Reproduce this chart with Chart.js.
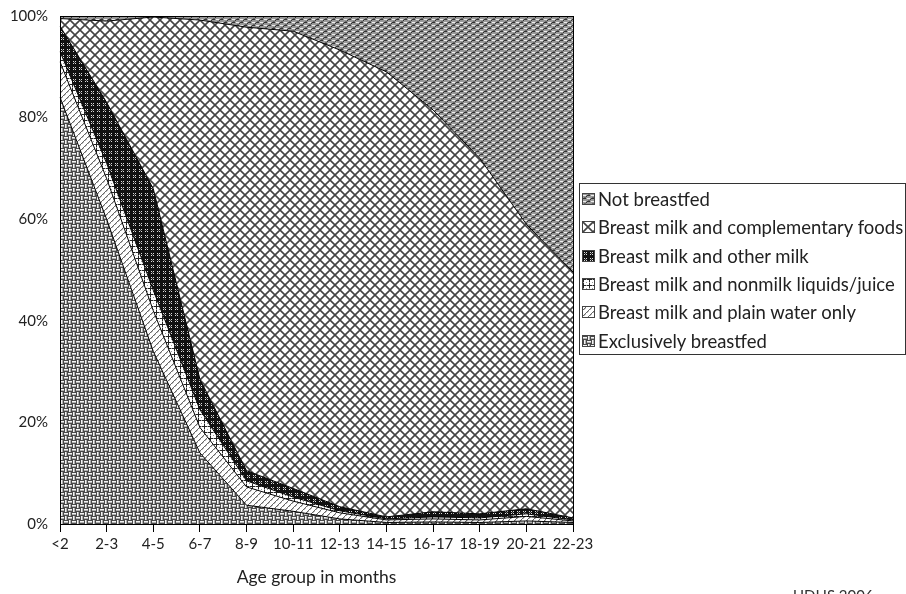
<!DOCTYPE html>
<html>
<head>
<meta charset="utf-8">
<script src="https://cdn.jsdelivr.net/npm/chart.js@4.4.1/dist/chart.umd.min.js"></script>
<style>
  html, body { margin: 0; padding: 0; background: #fff; overflow: hidden; }
  #wrap { position: relative; width: 906px; height: 594px; font-family: 'Lato', sans-serif; color: #222; }
  #legend { position: absolute; left: 579px; top: 183px; width: 327px; height: 172px; border: 1px solid #333; box-sizing: border-box; padding-top: 1px; }
  #legend .item { display: flex; align-items: center; height: 28.3px; font-size: 18.5px; white-space: nowrap; }
  #legend canvas { margin: 0 3px 0 2px; border: 1px solid #444; }
  #source { position: absolute; left: 793px; top: 588px; font-size: 15px; line-height: 15px; color: #333; }
</style>
</head>
<body>
<div id="wrap">
  <canvas id="chart" width="906" height="594"></canvas>
  <div id="legend"></div>
  <div id="source">UDHS 2006</div>
</div>
<script>
'use strict';

// Age groups (months)
const ageGroups = ['<2', '2-3', '4-5', '6-7', '8-9', '10-11', '12-13', '14-15', '16-17', '18-19', '20-21', '22-23'];

// Feeding status, percent of children in each age group
const exclusivelyBreastfed = [84, 60, 34, 14, 3.7, 2.5, 1.0, 0.3, 0.4, 0.3, 0.6, 0.3];
const plainWaterOnly       = [7, 8, 8, 5, 3.6, 2.0, 1.2, 0.5, 0.6, 0.5, 0.9, 0.3];
const nonmilkLiquids       = [2, 3, 4, 3.5, 1.2, 0.8, 0.4, 0.2, 0.4, 0.4, 0.5, 0.2];
const otherMilk            = [5, 12, 20, 6, 2.0, 1.7, 0.8, 0.4, 1.0, 0.8, 1.0, 0.4];
const complementaryFoods   = [1.5, 16, 33.8, 70.7, 87.3, 90, 89.9, 87.6, 79.1, 70, 56, 48.4];
const notBreastfed         = [0.5, 1, 0.2, 0.8, 2.2, 3, 6.7, 11, 18.5, 28, 41, 50.4];

const yTicks = [0, 20, 40, 60, 80, 100];

// --- fill patterns (greyscale, like the printed report) ---
function makePattern(w, h, draw) {
    const c = document.createElement('canvas');
    c.width = w; c.height = h;
    const g = c.getContext('2d');
    draw(g, w, h);
    return g.createPattern(c, 'repeat');
}

function px(g, color, list) {
    g.fillStyle = color;
    list.forEach(([x, y, w, h]) => g.fillRect(x, y, w || 1, h || 1));
}

const patterns = {
    // basket weave
    exclusive: makePattern(8, 8, (g) => {
        g.fillStyle = '#4a4a4a'; g.fillRect(0, 0, 8, 8);
        px(g, '#f4f4f4', [[0, 1, 4, 1], [5, 0, 1, 4], [4, 5, 4, 1], [1, 4, 1, 4]]);
        px(g, '#b0b0b0', [[0, 2, 4, 1], [6, 0, 1, 4], [4, 6, 4, 1], [2, 4, 1, 4]]);
    }),
    water: makePattern(6, 6, (g) => {
        g.fillStyle = '#fff'; g.fillRect(0, 0, 6, 6);
        px(g, '#666', [[0, 2], [1, 1], [2, 0], [3, 5], [4, 4], [5, 3]]);
        px(g, '#bbb', [[1, 2], [2, 1], [4, 5], [5, 4]]);
    }),
    nonmilk: makePattern(6, 6, (g) => {
        g.fillStyle = '#fff'; g.fillRect(0, 0, 6, 6);
        px(g, '#222', [[0, 0, 6, 1], [0, 0, 1, 6]]);
        px(g, '#999', [[3, 3, 1, 1], [0, 3, 1, 1], [3, 0, 1, 1]]);
    }),
    otherMilk: makePattern(6, 6, (g) => {
        g.fillStyle = '#111'; g.fillRect(0, 0, 6, 6);
        px(g, '#ddd', [[1, 1], [3, 1], [1, 3], [3, 3]]);
        px(g, '#777', [[2, 2]]);
    }),
    complementary: makePattern(10, 10, (g) => {
        g.fillStyle = '#fff'; g.fillRect(0, 0, 10, 10);
        g.strokeStyle = '#444'; g.lineWidth = 1.6;
        g.beginPath();
        g.moveTo(0, 0); g.lineTo(10, 10);
        g.moveTo(10, 0); g.lineTo(0, 10);
        g.moveTo(-5, 5); g.lineTo(5, -5);
        g.moveTo(5, 15); g.lineTo(15, 5);
        g.stroke();
    }),
    notBreastfed: makePattern(8, 6, (g) => {
        g.fillStyle = '#999'; g.fillRect(0, 0, 8, 6);
        px(g, '#eee', [[0, 1, 3, 1], [4, 4, 3, 1]]);
        px(g, '#333', [[4, 1, 3, 1], [0, 4, 3, 1], [3, 2], [7, 5]]);
        px(g, '#666', [[1, 3, 2, 1], [5, 0, 2, 1]]);
    })
};

const series = [
    { label: 'Exclusively breastfed', data: exclusivelyBreastfed, pattern: patterns.exclusive },
    { label: 'Breast milk and plain water only', data: plainWaterOnly, pattern: patterns.water },
    { label: 'Breast milk and nonmilk liquids/juice', data: nonmilkLiquids, pattern: patterns.nonmilk },
    { label: 'Breast milk and other milk', data: otherMilk, pattern: patterns.otherMilk },
    { label: 'Breast milk and complementary foods', data: complementaryFoods, pattern: patterns.complementary },
    { label: 'Not breastfed', data: notBreastfed, pattern: patterns.notBreastfed }
];

// frame round the plot area
const frame = {
    id: 'frame',
    afterDatasetsDraw(chart) {
        const { ctx, chartArea: a } = chart;
        ctx.save();
        ctx.strokeStyle = '#000';
        ctx.lineWidth = 1;
        ctx.strokeRect(a.left + 0.5, a.top + 0.5, a.right - a.left, a.bottom - a.top);
        ctx.restore();
    }
};

const font = { family: "'Lato', sans-serif", size: 15 };

const chart = new Chart(document.getElementById('chart'), {
    type: 'line',
    data: {
        labels: ageGroups,
        datasets: series.map((s, i) => ({
            label: s.label,
            data: s.data,
            backgroundColor: s.pattern,
            borderColor: '#000',
            borderWidth: 1,
            pointRadius: 0,
            tension: 0,
            fill: i === 0 ? 'origin' : '-1'
        }))
    },
    options: {
        responsive: false,
        animation: false,
        devicePixelRatio: 1,
        layout: { padding: { top: 16, right: 333, left: 0, bottom: 0 } },
        plugins: {
            legend: { display: false },
            tooltip: { enabled: false }
        },
        scales: {
            x: {
                offset: false,
                grid: { display: true, drawOnChartArea: false, drawTicks: true, tickLength: 8, color: '#000' },
                border: { color: '#000', width: 1 },
                ticks: { color: '#222', font: font, padding: 3, maxRotation: 0, autoSkip: false },
                title: { display: true, text: 'Age group in months', color: '#222', font: { family: font.family, size: 17.5 }, padding: { top: 0, bottom: 6 } },
                afterFit: (s) => { s.height = 70; }
            },
            y: {
                stacked: true,
                min: 0,
                max: 100,
                afterBuildTicks: (s) => { s.ticks = yTicks.map(v => ({ value: v })); },
                grid: { display: false, drawTicks: false },
                border: { color: '#000', width: 1 },
                ticks: { color: '#222', font: font, padding: 12, callback: (v) => v + '%' },
                // fixed width, and don't let the label padding push the plot down
                afterFit: (s) => { s.width = 60; s.paddingTop = 0; s.paddingBottom = 0; }
            }
        }
    },
    plugins: [frame]
});

// legend, top layer first
const legend = document.getElementById('legend');
chart.data.datasets.slice().reverse().forEach((ds) => {
    const item = document.createElement('div');
    item.className = 'item';
    const sw = document.createElement('canvas');
    sw.width = 11; sw.height = 10;
    const g = sw.getContext('2d');
    g.fillStyle = ds.backgroundColor;
    g.fillRect(0, 0, 11, 10);
    item.appendChild(sw);
    const t = document.createElement('span');
    t.textContent = ds.label;
    item.appendChild(t);
    legend.appendChild(item);
});
</script>
</body>
</html>
